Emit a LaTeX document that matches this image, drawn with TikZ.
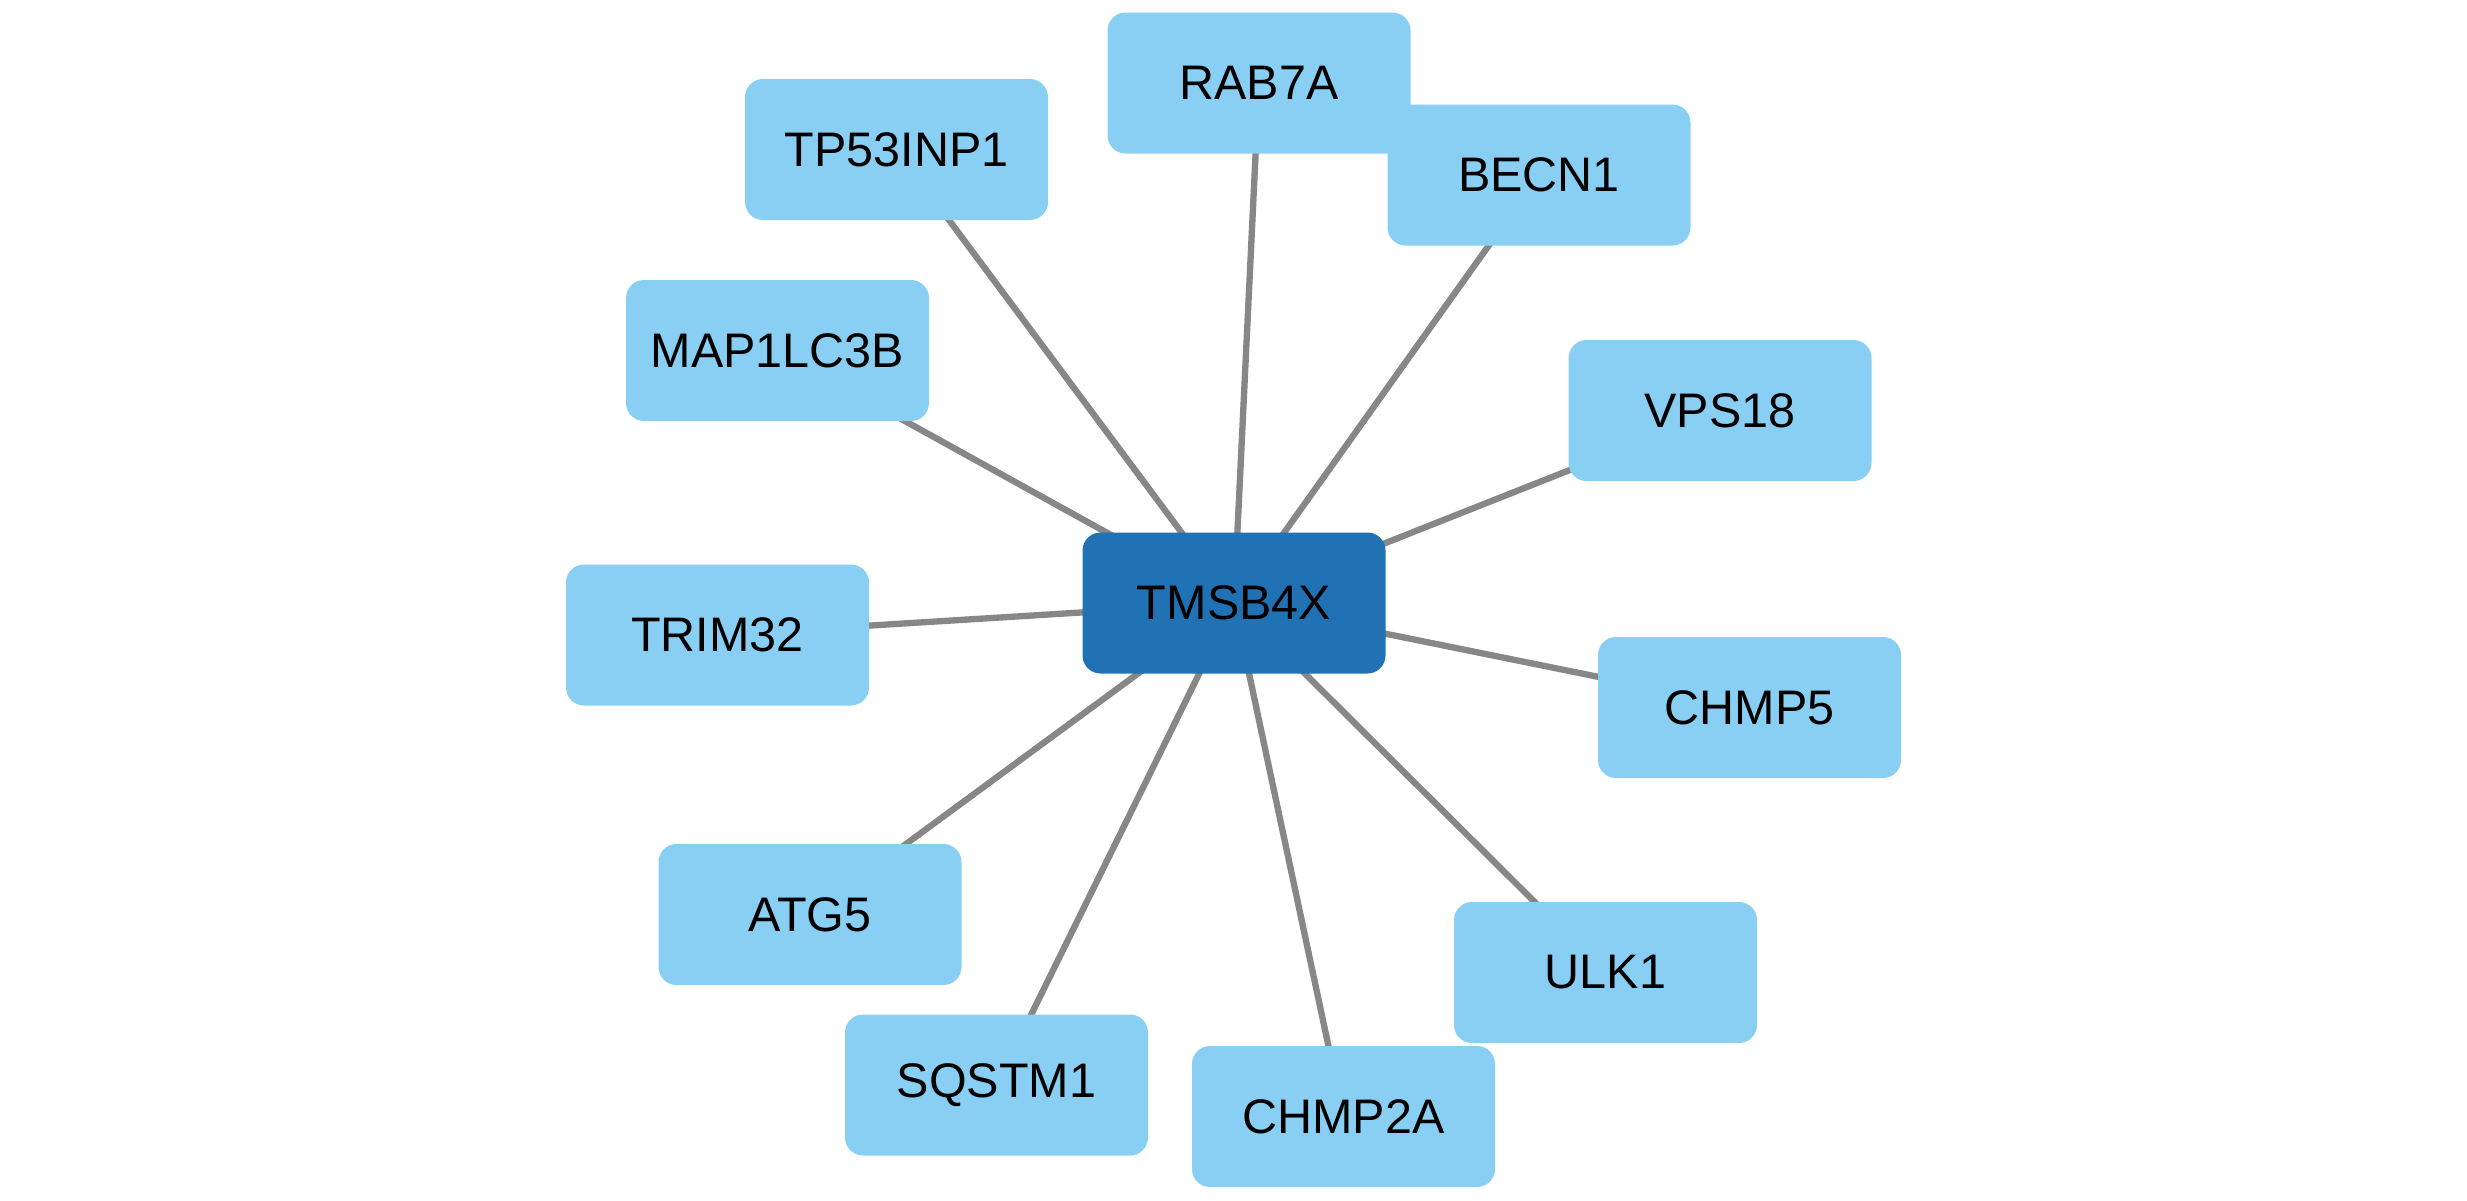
\documentclass[tikz,border=0pt]{standalone}
\usepackage{fontspec}
\setmainfont{Liberation Sans}
\usetikzlibrary{backgrounds}

\definecolor{genefill}{HTML}{89CFF3}
\definecolor{hubfill}{HTML}{2171B5}
\definecolor{edgegray}{HTML}{878787}

\begin{document}
\begin{tikzpicture}[
   gene/.style={rectangle, rounded corners=0.18cm, fill=genefill, minimum width=3.03cm,
                minimum height=1.41cm, inner sep=0pt, font=\fontsize{13.8}{16}\selectfont},
   hub/.style={gene, fill=hubfill},
   link/.style={draw=edgegray, line width=1.8pt}]
   \useasboundingbox (0,0) rectangle (24.67,-12);

   \node (tmsb4x) at (12.34, -6.03) [hub] {TMSB4X};
   \node (rab7a) at (12.59, -0.83) [gene] {RAB7A};
   \node (becn1) at (15.39, -1.75) [gene] {BECN1};
   \node (tp53inp1) at (8.965, -1.495) [gene] {TP53INP1};
   \node (map1lc3b) at (7.775, -3.505) [gene] {MAP1LC3B};
   \node (vps18) at (17.20, -4.105) [gene] {VPS18};
   \node (trim32) at (7.175, -6.35) [gene] {TRIM32};
   \node (chmp5) at (17.495, -7.075) [gene] {CHMP5};
   \node (atg5) at (8.10, -9.145) [gene] {ATG5};
   \node (ulk1) at (16.055, -9.725) [gene] {ULK1};
   \node (sqstm1) at (9.965, -10.85) [gene] {SQSTM1};
   \node (chmp2a) at (13.435, -11.165) [gene] {CHMP2A};

   \begin{scope}[on background layer]
   \draw[link] (tmsb4x.center) -- (rab7a.center);
   \draw[link] (tmsb4x.center) -- (becn1.center);
   \draw[link] (tmsb4x.center) -- (tp53inp1.center);
   \draw[link] (tmsb4x.center) -- (map1lc3b.center);
   \draw[link] (tmsb4x.center) -- (vps18.center);
   \draw[link] (tmsb4x.center) -- (trim32.center);
   \draw[link] (tmsb4x.center) -- (chmp5.center);
   \draw[link] (tmsb4x.center) -- (atg5.center);
   \draw[link] (tmsb4x.center) -- (ulk1.center);
   \draw[link] (tmsb4x.center) -- (sqstm1.center);
   \draw[link] (tmsb4x.center) -- (chmp2a.center);
   \end{scope}

\end{tikzpicture}
\end{document}
